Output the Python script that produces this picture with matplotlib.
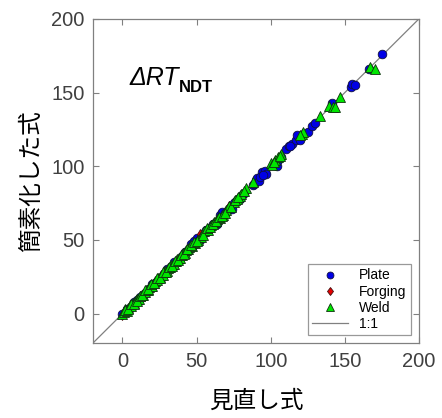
import matplotlib
matplotlib.use("Agg")
import matplotlib.pyplot as plt

plt.rcParams['font.family'] = ['Liberation Sans', 'Noto Sans CJK JP', 'DejaVu Sans']

plate_x = [0, 3, 5, 8, 10, 12, 15, 18, 20, 22, 25, 28, 30, 33, 35, 38, 40, 42, 44, 46, 48, 50, 52,
           55, 57, 62, 64, 66, 67, 73, 76, 78, 80, 82, 88, 90, 91, 94, 96, 97, 103, 104, 110, 112,
           114, 117, 118, 120, 125, 128, 130, 141, 154, 155, 157, 166, 175,
           47, 49, 51, 53, 56, 58, 60, 61, 63, 69, 71, 74, 75, 77, 79, 81, 89, 92, 93, 95, 105, 107, 113]
plate_y = [0, 3, 4, 8, 9, 11, 14, 17, 20, 21, 24, 27, 30, 32, 35, 37, 39, 42, 43, 47, 49, 51, 50,
           55, 57, 61, 61, 67, 69, 72, 76, 78, 80, 82, 87, 91, 92, 96, 97, 95, 102, 100, 112, 114,
           115, 118, 121, 118, 123, 127, 129, 143, 154, 156, 155, 166, 176,
           45, 47, 49, 52, 57, 56, 59, 61, 62, 68, 70, 71, 75, 77, 78, 81, 88, 90, 93, 94, 104, 106, 114]

forging_x = [0, 24, 27, 30, 52, 53, 71, 72]
forging_y = [-1, 23, 25, 29, 54, 53, 71, 73]

weld_x = [0, 1, 2, 3, 4, 5, 6, 7, 8, 9, 10, 11, 12, 13, 14, 15, 16, 17, 18, 19, 20, 21, 22, 23, 24,
          25, 26, 27, 28, 29, 30, 31, 32, 33, 34, 35, 36, 37, 38, 39, 40, 41, 42, 43, 44, 45, 47,
          49, 51, 53, 55, 58, 60, 62, 64, 66, 68, 70, 72, 75, 77, 79, 80, 83, 88, 100, 101, 103,
          105, 107, 121, 122, 133, 139, 142, 143, 147, 167, 170,
          1.5, 3.5, 5.5, 7.5, 9.5, 11.5, 13.5, 15.5, 17.5, 19.5, 21.5, 23.5, 25.5, 27.5, 29.5,
          31.5, 33.5, 35.5, 37.5, 39.5, 41.5, 43.5, 46, 48, 50, 54, 57, 59, 61, 63, 65, 67, 69,
          73, 76, 78, 82, 102, 106, 120]
weld_y = [0, 1, 3, 2, 4, 6, 5, 7, 7, 9, 10, 10, 12, 13, 13, 15, 16, 16, 18, 19, 19, 21, 22, 23, 24,
          25, 26, 26, 28, 29, 29, 31, 32, 33, 34, 34, 36, 37, 38, 38, 40, 41, 41, 43, 44, 45, 46,
          48, 50, 52, 56, 57, 60, 62, 64, 65, 67, 70, 73, 76, 78, 80, 81, 85, 89, 102, 101, 104,
          106, 108, 122, 123, 134, 141, 140, 140, 147, 167, 166,
          2.5, 3, 6.5, 6.5, 8.5, 12, 12.5, 16, 16.5, 20, 20.5, 24, 24.5, 28, 28.5,
          32, 32.5, 36, 36.5, 40, 40.5, 44, 46.5, 48.5, 49, 53.5, 58, 58.5, 60.5, 63, 65.5, 66, 68,
          72.5, 77, 79, 83, 103, 107, 121]

line_x = [-20, 200]
line_y = [-20, 200]

fig = plt.figure(figsize=(4.42, 4.18), dpi=100)
ax = fig.add_axes([0.210, 0.179, 0.738, 0.776])

ax.plot(line_x, line_y, color='#808080', lw=0.9, zorder=1, label='1:1')
ax.plot(plate_x, plate_y, 'o', ms=6.2, mfc='#0000e6', mec='#101040', mew=0.6, ls='none', zorder=2, label='Plate')
ax.plot(forging_x, forging_y, 'd', ms=5.5, mfc='#e60000', mec='#401010', mew=0.6, ls='none', zorder=3, label='Forging')
ax.plot(weld_x, weld_y, '^', ms=7, mfc='#00e600', mec='#103010', mew=0.6, ls='none', zorder=4, label='Weld')

ax.set_xlim(-20, 200)
ax.set_ylim(-20, 200)
ax.set_xticks([0, 50, 100, 150, 200])
ax.set_yticks([0, 50, 100, 150, 200])
ax.tick_params(direction='in', top=True, right=True, length=4, color='#808080',
               labelsize=14.5, labelcolor='#404040', pad=6)
for s in ax.spines.values():
    s.set_color('#808080')
    s.set_linewidth(0.9)

ax.set_xlabel('見直し式', fontsize=17, family=['Noto Sans CJK JP'], labelpad=14)
ax.set_ylabel('簡素化した式', fontsize=17, family=['Noto Sans CJK JP'], labelpad=6)

t = ax.text(4.5, 155, 'ΔRT', fontsize=18, style='italic', va='baseline', ha='left')
ax.annotate('NDT', xy=(1, 0), xycoords=t, xytext=(0, -1), textcoords='offset points',
            fontsize=12, fontweight='bold', va='baseline', ha='left')

h, l = ax.get_legend_handles_labels()
order = [1, 2, 3, 0]
leg = ax.legend([h[i] for i in order], [l[i] for i in order], loc='lower right',
                fontsize=10, frameon=True, fancybox=False, edgecolor='#808080',
                borderaxespad=0.6, handlelength=2.6, labelspacing=0.15, borderpad=0.3,
                markerscale=0.8)
leg.get_frame().set_linewidth(0.9)

fig.savefig('out.png', dpi=100)
